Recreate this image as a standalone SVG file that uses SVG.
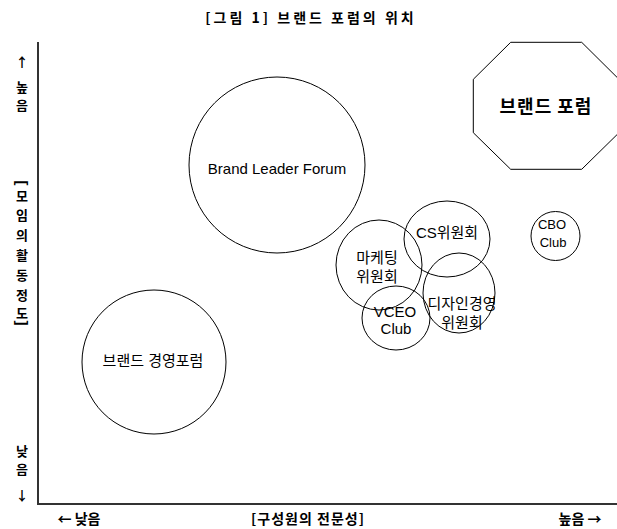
<svg xmlns="http://www.w3.org/2000/svg" width="617" height="529" viewBox="0 0 617 529">
<style>
.lbl{font-family:"Noto Sans CJK KR","Liberation Sans",sans-serif;font-weight:bold;font-size:14px;fill:#000;text-anchor:middle;dominant-baseline:central}
.v{font-size:13px}
.br{font-family:"Liberation Sans",sans-serif;font-weight:bold;font-size:15px;fill:#000;text-anchor:middle;dominant-baseline:central}
.nd{fill:none;stroke:#000;stroke-width:1}
.t{font-family:"Liberation Sans","Noto Sans CJK KR",sans-serif;font-size:15px;fill:#000;text-anchor:middle;dominant-baseline:central}
.axis{stroke:#333;stroke-width:2;fill:none}
</style>
<rect width="617" height="529" fill="#fff"/>
<text class="lbl" x="311" y="17" style="letter-spacing:3px">[그림 1] 브랜드 포럼의 위치</text>
<g id="axes">
<line class="axis" x1="38" y1="42" x2="38" y2="505"/>
<line class="axis" x1="37" y1="504" x2="617" y2="504"/>
</g>
<g id="ylabels">
<text class="lbl v" x="22" y="61">↑</text>
<text class="lbl v" x="22" y="86">높</text>
<text class="lbl v" x="22" y="104">음</text>
<text class="br" x="22" y="183" transform="rotate(90 22 183)">[</text>
<text class="lbl v" x="22" y="195">모</text>
<text class="lbl v" x="22" y="214">임</text>
<text class="lbl v" x="22" y="234">의</text>
<text class="lbl v" x="22" y="254">활</text>
<text class="lbl v" x="22" y="274">동</text>
<text class="lbl v" x="22" y="294">정</text>
<text class="lbl v" x="22" y="312">도</text>
<text class="br" x="22" y="323" transform="rotate(90 22 323)">]</text>
<text class="lbl v" x="22" y="450">낮</text>
<text class="lbl v" x="22" y="468">음</text>
<text class="lbl v" x="22" y="494">↓</text>
</g>
<g id="xlabels">
<text class="lbl" x="79" y="518">← 낮음</text>
<text class="lbl" x="308" y="518" style="letter-spacing:1px">[구성원의 전문성]</text>
<text class="lbl" x="580" y="518">높음 →</text>
</g>
<g id="brand-forum">
<polygon class="nd" style="fill:#fff" points="510.7,42.3 581.7,42.3 619,79.3 619,132.7 581.7,169.3 510.7,169.3 473.3,132.7 473.3,79.3"/>
<text class="lbl" x="546" y="105" style="font-size:18px;letter-spacing:1px">브랜드 포럼</text>
</g>
<g id="brand-leader-forum">
<circle class="nd" cx="277" cy="165" r="88"/>
<text class="t" x="277" y="168">Brand Leader Forum</text>
</g>
<g id="brand-mgmt-forum">
<circle class="nd" cx="154" cy="362" r="72"/>
<text class="t" x="153" y="360">브랜드 경영포럼</text>
</g>
<g id="cs">
<ellipse class="nd" cx="447" cy="239" rx="43" ry="38"/>
<text class="t" x="447" y="232">CS위원회</text>
</g>
<g id="marketing">
<ellipse class="nd" cx="379" cy="265" rx="43" ry="45"/>
<text class="t" x="377" y="257">마케팅</text>
<text class="t" x="377" y="276">위원회</text>
</g>
<g id="design">
<ellipse class="nd" cx="459" cy="293" rx="36" ry="40"/>
<text class="t" x="462" y="303">디자인경영</text>
<text class="t" x="462" y="322">위원회</text>
</g>
<g id="vceo">
<ellipse class="nd" cx="396" cy="318" rx="34" ry="32"/>
<text class="t" x="395" y="311">VCEO</text>
<text class="t" x="396" y="328">Club</text>
</g>
<g id="cbo">
<circle class="nd" cx="555.5" cy="236" r="24.5"/>
<text class="t" x="552" y="224" style="font-size:13px">CBO</text>
<text class="t" x="553" y="242" style="font-size:13px">Club</text>
</g>
</svg>
